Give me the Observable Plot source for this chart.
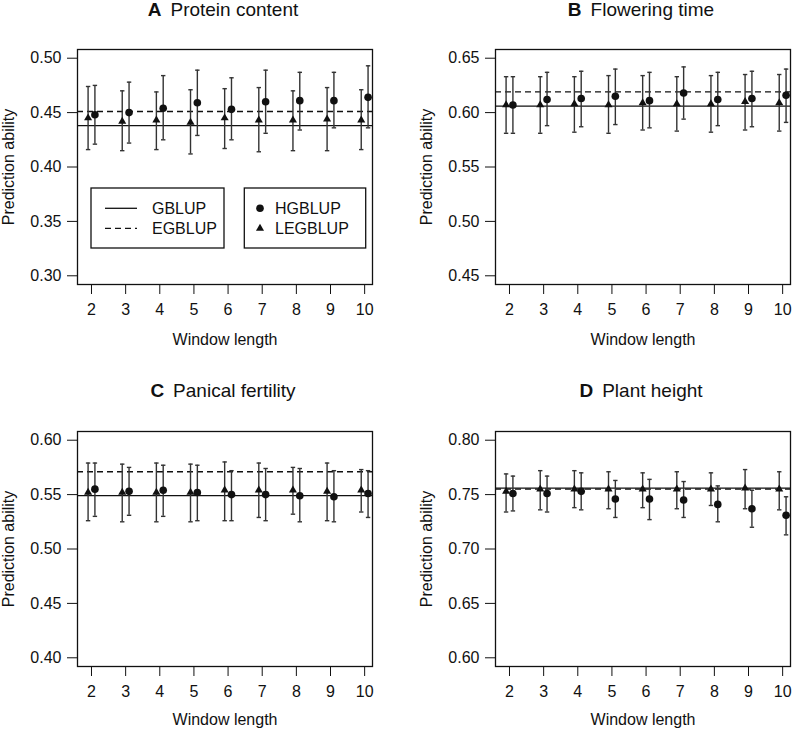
<!DOCTYPE html>
<html>
<head>
<meta charset="utf-8">
<script src="https://cdn.jsdelivr.net/npm/d3@7"></script>
<script src="https://cdn.jsdelivr.net/npm/@observablehq/plot@0.6"></script>
<style>
  body { margin: 0; background: #fff; }
  #figure { position: relative; width: 792px; height: 730px; overflow: hidden;
            font-family: "Liberation Sans", Arial, sans-serif; color: #111; }
  .panel-title { position: absolute; width: 292px; font-size: 19px; line-height: 22px;
                 text-align: center; white-space: nowrap; }
  .panel-title b { margin-right: 9px; }
  .panel-plot { position: absolute; }
  .legend { position: absolute; }
</style>
</head>
<body>
<div id="figure"></div>
<script>
// window lengths on the x axis
const windows = [2, 3, 4, 5, 6, 7, 8, 9, 10];

const letters = ["A", "B", "C", "D"];
const traits = ["Protein content", "Flowering time", "Panical fertility", "Plant height"];

// reference lines (one per trait)
const gblup = [0.438, 0.606, 0.549, 0.756];
const egblup = [0.451, 0.619, 0.571, 0.755];

// HGBLUP, mean and error bar ends, per trait
const hgblup = [
  [0.448, 0.450, 0.454, 0.459, 0.453, 0.460, 0.461, 0.461, 0.464],
  [0.607, 0.612, 0.613, 0.615, 0.611, 0.618, 0.612, 0.613, 0.616],
  [0.555, 0.553, 0.554, 0.552, 0.550, 0.550, 0.549, 0.548, 0.551],
  [0.751, 0.751, 0.753, 0.746, 0.746, 0.745, 0.741, 0.737, 0.731]
];
const hgblupLow = [
  [0.421, 0.422, 0.425, 0.429, 0.425, 0.431, 0.434, 0.436, 0.436],
  [0.581, 0.588, 0.587, 0.589, 0.586, 0.594, 0.588, 0.587, 0.591],
  [0.530, 0.531, 0.530, 0.526, 0.526, 0.526, 0.525, 0.525, 0.529],
  [0.735, 0.734, 0.736, 0.729, 0.727, 0.729, 0.725, 0.720, 0.713]
];
const hgblupHigh = [
  [0.475, 0.478, 0.484, 0.489, 0.482, 0.489, 0.487, 0.487, 0.493],
  [0.633, 0.637, 0.638, 0.640, 0.637, 0.642, 0.637, 0.638, 0.640],
  [0.579, 0.575, 0.577, 0.577, 0.572, 0.574, 0.574, 0.572, 0.572],
  [0.767, 0.767, 0.770, 0.763, 0.764, 0.762, 0.758, 0.754, 0.748]
];

// LEGBLUP, mean and error bar ends, per trait
const legblup = [
  [0.445, 0.442, 0.443, 0.441, 0.445, 0.443, 0.443, 0.444, 0.443],
  [0.607, 0.607, 0.608, 0.607, 0.609, 0.608, 0.608, 0.610, 0.609],
  [0.552, 0.552, 0.552, 0.552, 0.554, 0.554, 0.554, 0.553, 0.554],
  [0.753, 0.755, 0.755, 0.755, 0.755, 0.755, 0.755, 0.756, 0.755]
];
const legblupLow = [
  [0.416, 0.415, 0.416, 0.412, 0.417, 0.414, 0.415, 0.415, 0.416],
  [0.581, 0.581, 0.582, 0.581, 0.584, 0.583, 0.582, 0.584, 0.583],
  [0.526, 0.525, 0.525, 0.525, 0.526, 0.529, 0.532, 0.526, 0.534],
  [0.734, 0.736, 0.738, 0.737, 0.738, 0.737, 0.740, 0.737, 0.736]
];
const legblupHigh = [
  [0.474, 0.470, 0.469, 0.471, 0.472, 0.473, 0.470, 0.473, 0.471],
  [0.633, 0.633, 0.633, 0.634, 0.634, 0.633, 0.634, 0.635, 0.635],
  [0.579, 0.578, 0.579, 0.578, 0.580, 0.579, 0.575, 0.579, 0.573],
  [0.769, 0.772, 0.772, 0.771, 0.770, 0.771, 0.770, 0.773, 0.771]
];

const yTicks = [
  [0.30, 0.35, 0.40, 0.45, 0.50],
  [0.45, 0.50, 0.55, 0.60, 0.65],
  [0.40, 0.45, 0.50, 0.55, 0.60],
  [0.60, 0.65, 0.70, 0.75, 0.80]
];

// layout: where each panel's frame sits on the page
const frameLeft = [77, 495, 77, 495];
const frameTop = [49, 49, 431, 431];
const frameW = 295, frameH = 235;
const mLeft = 77, mTop = 25;

const ink = "#111";
const barInk = "#333";
const font = "'Liberation Sans', Arial, sans-serif";

// little horizontal cap for the error bars
const cap = {
  draw(context, size) {
    const r = Math.sqrt(size / Math.PI);
    context.moveTo(-r, 0);
    context.lineTo(r, 0);
  }
};

const fig = d3.select("#figure");

letters.forEach((letter, i) => {
  const rows = windows.map((w, j) => ({
    w,
    hg: hgblup[i][j], hgLo: hgblupLow[i][j], hgHi: hgblupHigh[i][j],
    leg: legblup[i][j], legLo: legblupLow[i][j], legHi: legblupHigh[i][j]
  }));
  const right = i % 2 === 1;
  const bottom = i >= 2;
  const mRight = right ? 2 : 24;
  const mBottom = bottom ? 64 : 70;
  const ticks = yTicks[i];
  const pad = 0.008;

  const xl = d => d.w - 0.1;   // LEGBLUP a little to the left
  const xr = d => d.w + 0.1;   // HGBLUP a little to the right

  const chart = Plot.plot({
    width: mLeft + frameW + mRight,
    height: mTop + frameH + mBottom,
    marginLeft: mLeft,
    marginRight: mRight,
    marginTop: mTop,
    marginBottom: mBottom,
    style: {fontSize: "16px", fontFamily: font, color: ink, background: "none", overflow: "visible"},
    x: {
      domain: [1.59, 10.23],
      ticks: windows,
      tickFormat: d => d,
      tickSize: 10,
      tickPadding: 9,
      label: "Window length",
      labelAnchor: "center",
      labelOffset: bottom ? 58.5 : 60.6,
      labelArrow: false
    },
    y: {
      domain: [ticks[0] - pad, ticks[ticks.length - 1] + pad],
      ticks: ticks,
      tickFormat: d3.format(".2f"),
      tickSize: 10,
      tickPadding: 6,
      label: "Prediction ability",
      labelAnchor: "center",
      labelOffset: 74.5,
      labelArrow: false
    },
    marks: [
      Plot.ruleY([gblup[i]], {stroke: ink, strokeWidth: 1.3}),
      Plot.ruleY([egblup[i]], {stroke: ink, strokeWidth: 1.3, strokeDasharray: "6,4"}),
      Plot.ruleX(rows, {x: xl, y1: "legLo", y2: "legHi", stroke: barInk, strokeWidth: 1.4}),
      Plot.ruleX(rows, {x: xr, y1: "hgLo", y2: "hgHi", stroke: barInk, strokeWidth: 1.4}),
      Plot.dot(rows, {x: xl, y: "legLo", symbol: cap, r: 2.2, fill: "none", stroke: barInk, strokeWidth: 1.4}),
      Plot.dot(rows, {x: xl, y: "legHi", symbol: cap, r: 2.2, fill: "none", stroke: barInk, strokeWidth: 1.4}),
      Plot.dot(rows, {x: xr, y: "hgLo", symbol: cap, r: 2.2, fill: "none", stroke: barInk, strokeWidth: 1.4}),
      Plot.dot(rows, {x: xr, y: "hgHi", symbol: cap, r: 2.2, fill: "none", stroke: barInk, strokeWidth: 1.4}),
      Plot.dot(rows, {x: xl, y: "leg", symbol: "triangle", r: 3, fill: ink, stroke: "none"}),
      Plot.dot(rows, {x: xr, y: "hg", symbol: "circle", r: 3.8, fill: ink, stroke: "none"}),
      Plot.frame({stroke: ink, strokeWidth: 1.3})
    ]
  });

  fig.append("div")
    .attr("class", "panel-plot")
    .style("left", (frameLeft[i] - mLeft) + "px")
    .style("top", (frameTop[i] - mTop) + "px")
    .append(() => chart);

  const title = fig.append("div")
    .attr("class", "panel-title")
    .style("left", frameLeft[i] + "px")
    .style("top", (bottom ? 380 : -1) + "px");
  title.append("b").text(letter);
  title.append("span").text(traits[i]);
});

// legend boxes inside panel A
const legend = fig.append("svg")
  .attr("class", "legend")
  .attr("width", 278).attr("height", 63)
  .style("left", "90px").style("top", "187px")
  .style("font-family", font).style("font-size", "16px");

legend.append("rect").attr("x", 1).attr("y", 1).attr("width", 133).attr("height", 60)
  .attr("fill", "#fff").attr("stroke", ink).attr("stroke-width", 1.3);
legend.append("rect").attr("x", 154.3).attr("y", 1).attr("width", 121.4).attr("height", 60)
  .attr("fill", "#fff").attr("stroke", ink).attr("stroke-width", 1.3);

const lineKeys = [{label: "GBLUP", dash: null}, {label: "EGBLUP", dash: "6,4"}];
lineKeys.forEach((k, j) => {
  const y = 21.3 + j * 20;
  legend.append("line").attr("x1", 15).attr("x2", 47).attr("y1", y).attr("y2", y)
    .attr("stroke", ink).attr("stroke-width", 1.3).attr("stroke-dasharray", k.dash);
  legend.append("text").attr("x", 62).attr("y", y + 6).attr("fill", ink).text(k.label);
});

const symbolKeys = [{label: "HGBLUP", type: d3.symbolCircle, r: 3.8}, {label: "LEGBLUP", type: d3.symbolTriangle, r: 3}];
symbolKeys.forEach((k, j) => {
  const y = 21.3 + j * 20;
  legend.append("path")
    .attr("transform", `translate(170,${y})`)
    .attr("d", d3.symbol(k.type, k.r * k.r * Math.PI)())
    .attr("fill", ink);
  legend.append("text").attr("x", 185).attr("y", y + 6).attr("fill", ink).text(k.label);
});
</script>
</body>
</html>
